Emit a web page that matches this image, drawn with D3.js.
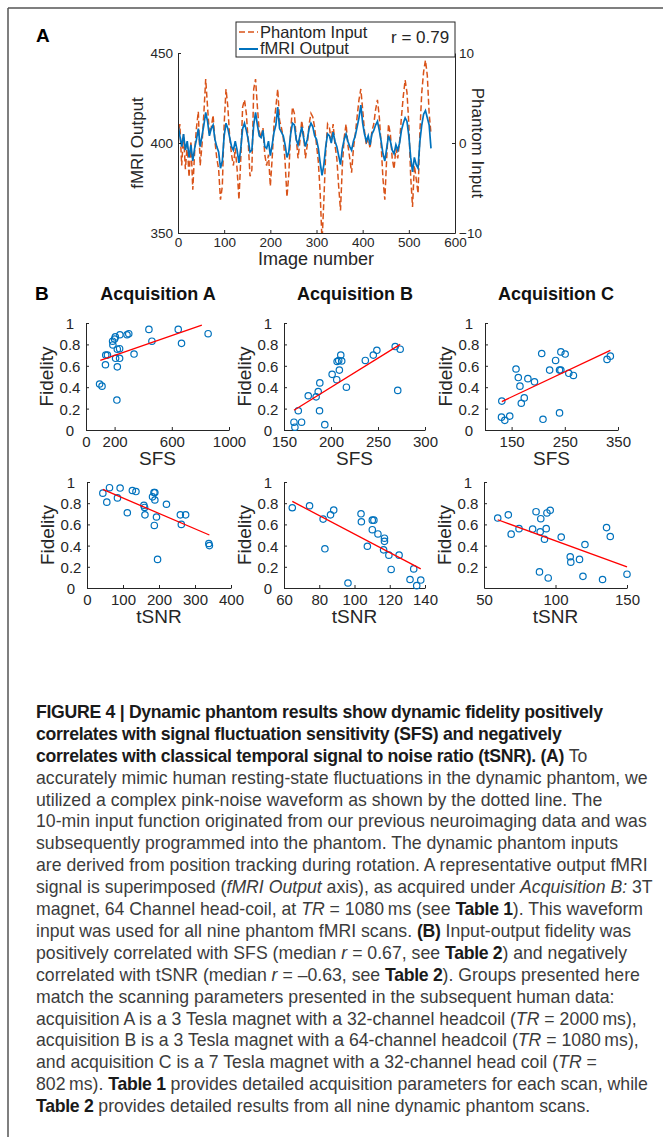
<!DOCTYPE html>
<html>
<head>
<meta charset="utf-8">
<script src="https://cdn.jsdelivr.net/npm/d3@7"></script>
<style>
  body { margin: 0; background: #fff; }
  svg text { font-family: "Liberation Sans", Arial, Helvetica, sans-serif; fill: #262626; }
</style>
</head>
<body>
<svg id="fig" width="663" height="1137"></svg>
<script>
// ---- panel A: phantom input vs fMRI output, one sample every 4 images ----
const imageStep = 4;
const phantomInput = [
  0.6, 2.1, -2.5, 1.0, -2.9, -0.2, -3.8, 0.2, -5.2, -1.0,
  1.7, 3.5, -2.5, -0.2, 3.3, 7.1, 4.0, 1.0, 1.7, 3.1,
  0.2, -1.7, -2.9, -6.3, -4.8, 2.1, 6.0, 4.0, 0.6, -1.3,
  -2.5, -0.6, -2.9, -6.3, -1.7, 4.0, 4.8, 3.3, 0.2, -3.7,
  -3.0, 6.0, 7.1, 4.0, 1.3, 0.6, 1.7, -1.3, -2.5, -1.3,
  -4.8, -1.7, 2.1, 4.0, 6.0, 2.5, 1.7, 0.6, -2.1, -6.0,
  -3.5, 1.3, 4.0, 3.3, 0.6, -1.7, 0.2, 2.5, 1.0, -1.7,
  -0.2, 2.1, 3.3, 2.9, 1.7, -0.2, -2.1, -5.6, -11.0, -6.3,
  -1.0, 2.1, 1.7, 0.2, 2.1, -0.2, -1.7, -4.8, -7.5, -2.5,
  0.6, 2.1, -0.2, -1.7, -3.3, -0.6, 1.0, 2.9, 4.8, 6.0,
  3.7, 1.3, -0.2, 0.6, -0.6, 1.3, 2.1, 3.7, 4.8, 2.9,
  -0.2, -4.0, -6.3, -1.7, 2.1, 1.0, -1.7, -2.9, -0.6, -1.7,
  0.2, 2.9, 5.2, 7.0, 5.6, 2.1, -3.7, -7.1, -2.5, -4.0,
  -5.6, 1.3, 5.6, 7.9, 9.2, 7.5, 3.3, 1.0
];
const fmriOutput = [
  410, 404, 398, 405, 396, 401, 392, 399, 390, 397,
  402, 408, 398, 404, 410, 417, 412, 404, 408, 410,
  402, 398, 395, 386, 390, 404, 411, 408, 403, 398,
  396, 401, 396, 389, 397, 408, 411, 407, 402, 395,
  396, 410, 417, 410, 404, 403, 407, 398, 397, 401,
  393, 399, 406, 410, 420, 408, 406, 404, 399, 392,
  395, 405, 411, 410, 402, 399, 404, 409, 403, 398,
  402, 408, 411, 409, 404, 402, 397, 389, 382, 388,
  398, 405, 404, 400, 406, 401, 398, 393, 388, 397,
  402, 405, 401, 398, 396, 401, 404, 409, 414, 421,
  411, 405, 401, 404, 399, 405, 407, 410, 412, 407,
  401, 394, 390, 397, 404, 401, 396, 394, 399, 396,
  400, 407, 411, 414, 412, 404, 392, 384, 392, 388,
  386, 401, 410, 416, 418, 414, 410, 397
];
const imageTicks = [0, 100, 200, 300, 400, 500, 600];
const outputTicks = [350, 400, 450];
const inputTicks = [-10, 0, 10];
const correlationLabel = 'r = 0.79';

// ---- panel B: fidelity against SFS (top row) and tSNR (bottom row) ----
const sfsA = [95, 112, 136, 138, 150, 186, 200, 188, 205, 216, 219, 235, 207, 235, 219, 237, 287, 299, 336, 440, 461, 645, 668, 854];
const fidSfsA = [0.43, 0.41, 0.61, 0.70, 0.70, 0.83, 0.85, 0.795, 0.87, 0.28, 0.755, 0.76, 0.67, 0.67, 0.59, 0.89, 0.89, 0.90, 0.71, 0.94, 0.83, 0.94, 0.81, 0.90];
const fitSfsA = [[100, 0.65], [810, 0.98]];

const sfsB = [160.6, 161.6, 168.7, 165.2, 175.8, 184.2, 186.4, 188.1, 187.8, 193.4, 201.2, 206.1, 206.5, 208.2, 208.9, 210.4, 211.4, 216.4, 236.5, 245, 248.8, 268.3, 273.6, 271];
const fidSfsB = [0.073, 0.026, 0.073, 0.18, 0.32, 0.31, 0.36, 0.44, 0.18, 0.05, 0.52, 0.47, 0.64, 0.65, 0.56, 0.70, 0.645, 0.40, 0.65, 0.70, 0.745, 0.78, 0.755, 0.37];
const fitSfsB = [[160.6, 0.185], [273.6, 0.80]];

const sfsC = [131.6, 131, 137.2, 146.5, 158.3, 162.6, 165.7, 168.2, 173.8, 180.6, 193, 206.6, 209, 221.5, 232.7, 240.1, 240.1, 242.6, 242.6, 250.7, 257.5, 266.2, 329.4, 335.6];
const fidSfsC = [0.27, 0.12, 0.09, 0.13, 0.57, 0.49, 0.41, 0.25, 0.30, 0.48, 0.45, 0.715, 0.10, 0.56, 0.65, 0.16, 0.56, 0.56, 0.73, 0.71, 0.53, 0.51, 0.66, 0.69];
const fitSfsC = [[131.6, 0.266], [335.6, 0.744]];

const tsnrA = [44, 55, 62.5, 84.6, 92, 112, 126, 136, 158, 161, 160, 182, 186, 188.5, 188.5, 187, 193, 196, 220.7, 259.3, 262, 274, 338.4, 340];
const fidTsnrA = [0.895, 0.81, 0.946, 0.85, 0.943, 0.71, 0.92, 0.91, 0.78, 0.69, 0.76, 0.86, 0.90, 0.90, 0.83, 0.59, 0.67, 0.27, 0.79, 0.69, 0.60, 0.69, 0.42, 0.40];
const fitTsnrA = [[44, 0.93], [340, 0.50]];

const tsnrB = [64.7, 74.5, 82.2, 83.2, 86.4, 88.2, 96.3, 103.7, 103.9, 107.3, 110.1, 111, 110.1, 113.3, 117, 117, 116.5, 119.5, 120.8, 125.3, 131.5, 133.6, 135.3, 137.6];
const fidTsnrB = [0.757, 0.776, 0.65, 0.37, 0.69, 0.735, 0.047, 0.70, 0.625, 0.394, 0.64, 0.64, 0.55, 0.51, 0.47, 0.44, 0.36, 0.31, 0.175, 0.31, 0.08, 0.18, 0.022, 0.075];
const fitTsnrB = [[64.7, 0.817], [137.6, 0.18]];

const tsnrC = [59.6, 67, 69, 74.5, 84, 86.4, 89.3, 89.7, 88.8, 94, 96.3, 92.3, 93.5, 94.9, 104, 110.3, 110.7, 116.8, 119.2, 120.6, 132.9, 135.7, 138.3, 150];
const fidTsnrC = [0.66, 0.69, 0.508, 0.56, 0.556, 0.72, 0.53, 0.654, 0.152, 0.708, 0.733, 0.46, 0.56, 0.095, 0.48, 0.295, 0.244, 0.27, 0.11, 0.41, 0.08, 0.57, 0.486, 0.13];
const fitTsnrC = [[59.6, 0.644], [150, 0.20]];

const acquisitionTitles = ['Acquisition A', 'Acquisition B', 'Acquisition C'];
const fidelityTicks = [0, 0.2, 0.4, 0.6, 0.8, 1];

const INK = '#262626';
const ORANGE = '#D95319';
const BLUE = '#0072BD';

const svg = d3.select('#fig');

// frame around the figure
svg.append('line').attr('x1', 8).attr('y1', 8).attr('x2', 663).attr('y2', 8)
  .attr('stroke', '#555').attr('stroke-width', 1.5);
svg.append('line').attr('x1', 8).attr('y1', 8).attr('x2', 8).attr('y2', 1137)
  .attr('stroke', '#555').attr('stroke-width', 1.5);

function panelLetter(text, x, y) {
  svg.append('text').attr('x', x).attr('y', y)
    .style('font-size', '19px').style('font-weight', 'bold').style('fill', '#000')
    .text(text);
}

function styleAxis(g) {
  g.select('.domain').attr('stroke', INK).attr('stroke-width', 1);
  g.selectAll('.tick line').attr('stroke', INK);
  g.selectAll('.tick text').style('fill', INK).attr('fill', null);
}

// ---------------- panel A ----------------
panelLetter('A', 36, 42);

const xA = d3.scaleLinear().domain([0, 600]).range([178, 455]);
const yOut = d3.scaleLinear().domain([350, 450]).range([233, 53]);
const yIn = d3.scaleLinear().domain([-10, 10]).range([233, 53]);

svg.append('clipPath').attr('id', 'clipA').append('rect')
  .attr('x', 178).attr('y', 53).attr('width', 277).attr('height', 180);

const inputLine = d3.line().x((d, i) => xA(i * imageStep)).y(d => yIn(d));
const outputLine = d3.line().x((d, i) => xA(i * imageStep)).y(d => yOut(d));

const plotA = svg.append('g').attr('clip-path', 'url(#clipA)');
plotA.append('path').datum(phantomInput)
  .attr('d', inputLine).attr('fill', 'none')
  .attr('stroke', ORANGE).attr('stroke-width', 1.5).attr('stroke-dasharray', '6,3');
plotA.append('path').datum(fmriOutput)
  .attr('d', outputLine).attr('fill', 'none')
  .attr('stroke', BLUE).attr('stroke-width', 1.7);

const axA = svg.append('g').attr('transform', 'translate(0,233)')
  .call(d3.axisBottom(xA).tickValues(imageTicks).tickSizeInner(-3).tickSizeOuter(0).tickPadding(4));
axA.selectAll('text').style('font-size', '13.5px');
styleAxis(axA);

const ayOut = svg.append('g').attr('transform', 'translate(178,0)')
  .call(d3.axisLeft(yOut).tickValues(outputTicks).tickSizeInner(-3).tickSizeOuter(0).tickPadding(5));
ayOut.selectAll('text').style('font-size', '13.5px');
styleAxis(ayOut);

const ayIn = svg.append('g').attr('transform', 'translate(455,0)')
  .call(d3.axisRight(yIn).tickValues(inputTicks).tickSizeInner(-3).tickSizeOuter(0).tickPadding(4));
ayIn.selectAll('text').style('font-size', '13.5px');
styleAxis(ayIn);

svg.append('text').attr('x', 316).attr('y', 265).attr('text-anchor', 'middle')
  .style('font-size', '18px').text('Image number');
svg.append('text').attr('transform', 'translate(143,143) rotate(-90)').attr('text-anchor', 'middle')
  .style('font-size', '17px').text('fMRI Output');
svg.append('text').attr('transform', 'translate(472,143) rotate(90)').attr('text-anchor', 'middle')
  .style('font-size', '17px').text('Phantom Input');

// legend box
const leg = svg.append('g');
leg.append('rect').attr('x', 236).attr('y', 22).attr('width', 219).attr('height', 35)
  .attr('fill', '#fff').attr('stroke', INK).attr('stroke-width', 1);
leg.append('line').attr('x1', 239).attr('x2', 258).attr('y1', 32).attr('y2', 32)
  .attr('stroke', ORANGE).attr('stroke-width', 1.6).attr('stroke-dasharray', '6,3');
leg.append('line').attr('x1', 239).attr('x2', 258).attr('y1', 49).attr('y2', 49)
  .attr('stroke', BLUE).attr('stroke-width', 2);
leg.append('text').attr('x', 260).attr('y', 37.5).style('font-size', '16.5px').text('Phantom Input');
leg.append('text').attr('x', 260).attr('y', 54).style('font-size', '16.5px').text('fMRI Output');
leg.append('text').attr('x', 391).attr('y', 43).style('font-size', '17px').text(correlationLabel);

// ---------------- panel B ----------------
panelLetter('B', 35, 300);

const colCenters = [158, 355, 556];
acquisitionTitles.forEach((t, i) => {
  svg.append('text').attr('x', colCenters[i]).attr('y', 300).attr('text-anchor', 'middle')
    .style('font-size', '18px').style('font-weight', 'bold').style('fill', '#111').text(t);
});

function scatterPanel(opts) {
  const x = d3.scaleLinear().domain(opts.xDomain).range(opts.xRange);
  const y = d3.scaleLinear().domain([0, 1]).range(opts.yRange);
  const g = svg.append('g');

  const ax = g.append('g').attr('transform', `translate(0,${opts.yRange[0]})`)
    .call(d3.axisBottom(x).tickValues(opts.xTicks).tickFormat(d3.format('d')).tickSizeInner(-3).tickSizeOuter(0));
  ax.selectAll('text').style('font-size', '15px').attr('y', 17).attr('dy', null);
  styleAxis(ax);

  const ay = g.append('g').attr('transform', `translate(${opts.xRange[0]},0)`)
    .call(d3.axisLeft(y).tickValues(opts.yTicks).tickFormat(d3.format('~g')).tickSizeInner(-3).tickSizeOuter(0));
  ay.selectAll('text').style('font-size', '15px')
    .attr('x', -16).attr('text-anchor', 'middle').attr('dy', '0.36em');
  styleAxis(ay);

  g.append('text')
    .attr('transform', `translate(${opts.xRange[0] - 33},${(opts.yRange[0] + opts.yRange[1]) / 2}) rotate(-90)`)
    .attr('text-anchor', 'middle').style('font-size', '19px').text('Fidelity');
  g.append('text')
    .attr('x', (opts.xRange[0] + opts.xRange[1]) / 2).attr('y', opts.yRange[0] + 35)
    .attr('text-anchor', 'middle').style('font-size', '19px').text(opts.xLabel);

  g.selectAll('circle').data(opts.xs).join('circle')
    .attr('cx', d => x(d)).attr('cy', (d, i) => y(opts.ys[i]))
    .attr('r', 3.2).attr('fill', 'none').attr('stroke', BLUE).attr('stroke-width', 1.2);

  g.append('line')
    .attr('x1', x(opts.fit[0][0])).attr('y1', y(opts.fit[0][1]))
    .attr('x2', x(opts.fit[1][0])).attr('y2', y(opts.fit[1][1]))
    .attr('stroke', '#ff0000').attr('stroke-width', 1.3);
}

scatterPanel({ xDomain: [0, 1000], xRange: [86, 229], yRange: [430, 323], xTicks: [0, 200, 600, 1000],
  yTicks: fidelityTicks, xLabel: 'SFS', xs: sfsA, ys: fidSfsA, fit: fitSfsA });
scatterPanel({ xDomain: [150, 300], xRange: [284, 425], yRange: [430, 323], xTicks: [150, 200, 250, 300],
  yTicks: fidelityTicks, xLabel: 'SFS', xs: sfsB, ys: fidSfsB, fit: fitSfsB });
scatterPanel({ xDomain: [100, 350], xRange: [485, 618], yRange: [430, 323], xTicks: [150, 250, 350],
  yTicks: fidelityTicks, xLabel: 'SFS', xs: sfsC, ys: fidSfsC, fit: fitSfsC });

scatterPanel({ xDomain: [0, 400], xRange: [87, 231], yRange: [588, 482], xTicks: [0, 100, 200, 300, 400],
  yTicks: fidelityTicks, xLabel: 'tSNR', xs: tsnrA, ys: fidTsnrA, fit: fitTsnrA });
scatterPanel({ xDomain: [60, 140], xRange: [284, 425], yRange: [588, 482], xTicks: [60, 80, 100, 120, 140],
  yTicks: fidelityTicks, xLabel: 'tSNR', xs: tsnrB, ys: fidTsnrB, fit: fitTsnrB });
scatterPanel({ xDomain: [50, 150], xRange: [484, 627], yRange: [588, 482], xTicks: [50, 100, 150],
  yTicks: [0.2, 0.4, 0.6, 0.8, 1], xLabel: 'tSNR', xs: tsnrC, ys: fidTsnrC, fit: fitTsnrC });

// ---------------- caption ----------------
const captionLines = [
  [['b', 'FIGURE 4 | Dynamic phantom results show dynamic fidelity positively']],
  [['b', 'correlates with signal fluctuation sensitivity (SFS) and negatively']],
  [['b', 'correlates with classical temporal signal to noise ratio (tSNR). (A)'], ['n', ' To']],
  [['n', 'accurately mimic human resting-state fluctuations in the dynamic phantom, we']],
  [['n', 'utilized a complex pink-noise waveform as shown by the dotted line. The']],
  [['n', '10-min input function originated from our previous neuroimaging data and was']],
  [['n', 'subsequently programmed into the phantom. The dynamic phantom inputs']],
  [['n', 'are derived from position tracking during rotation. A representative output fMRI']],
  [['n', 'signal is superimposed ('], ['i', 'fMRI Output'], ['n', ' axis), as acquired under '], ['i', 'Acquisition B:'], ['n', ' 3T']],
  [['n', 'magnet, 64 Channel head-coil, at '], ['i', 'TR'], ['n', ' = 1080\u2009ms (see '], ['b', 'Table 1'], ['n', '). This waveform']],
  [['n', 'input was used for all nine phantom fMRI scans. '], ['b', '(B)'], ['n', ' Input-output fidelity was']],
  [['n', 'positively correlated with SFS (median '], ['i', 'r'], ['n', ' = 0.67, see '], ['b', 'Table 2'], ['n', ') and negatively']],
  [['n', 'correlated with tSNR (median '], ['i', 'r'], ['n', ' = \u20130.63, see '], ['b', 'Table 2'], ['n', '). Groups presented here']],
  [['n', 'match the scanning parameters presented in the subsequent human data:']],
  [['n', 'acquisition A is a 3 Tesla magnet with a 32-channel headcoil ('], ['i', 'TR'], ['n', ' = 2000\u2009ms),']],
  [['n', 'acquisition B is a 3 Tesla magnet with a 64-channel headcoil ('], ['i', 'TR'], ['n', ' = 1080\u2009ms),']],
  [['n', 'and acquisition C is a 7 Tesla magnet with a 32-channel head coil ('], ['i', 'TR'], ['n', ' =']],
  [['n', '802\u2009ms). '], ['b', 'Table 1'], ['n', ' provides detailed acquisition parameters for each scan, while']],
  [['b', 'Table 2'], ['n', ' provides detailed results from all nine dynamic phantom scans.']]
];

const captionSize = 17.5;
const cap = svg.append('g');
// the caption face is condensed: squeeze the regular face so the widest line spans the same width
const probe = cap.append('text').style('font-size', captionSize + 'px').text(captionLines[3][0][1]);
const squeeze = 612 / probe.node().getComputedTextLength();
probe.remove();
cap.attr('transform', `translate(36,0) scale(${squeeze},1)`);

captionLines.forEach((segs, i) => {
  const t = cap.append('text').attr('x', 0).attr('y', 718 + i * 21.9).style('font-size', captionSize + 'px');
  segs.forEach(([kind, str]) => {
    t.append('tspan')
      .style('font-weight', kind === 'b' ? 'bold' : 'normal')
      .style('font-style', kind === 'i' ? 'italic' : 'normal')
      .style('letter-spacing', kind === 'b' ? '-0.3px' : null)
      .style('fill', kind === 'b' ? '#1a1a1a' : '#3c3c3c')
      .text(str);
  });
});
</script>
</body>
</html>
